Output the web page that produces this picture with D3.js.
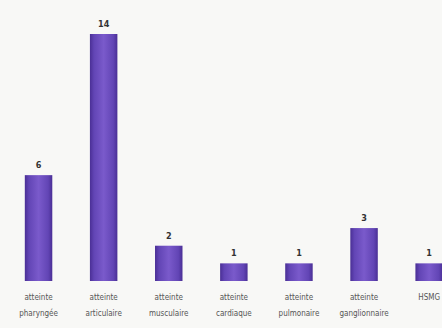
<!DOCTYPE html>
<html><head><meta charset="utf-8">
<script src="https://cdn.jsdelivr.net/npm/d3@7"></script>
<style>
html,body{margin:0;padding:0;background:#f8f8f6;overflow:hidden;}
svg{display:block;}
</style></head>
<body>
<svg id="chart" width="442" height="328"></svg>
<script>
const categories = ["atteinte pharyngée", "atteinte articulaire", "atteinte musculaire", "atteinte cardiaque", "atteinte pulmonaire", "atteinte ganglionnaire", "HSMG"];
const labelLine1 = ["atteinte", "atteinte", "atteinte", "atteinte", "atteinte", "atteinte", "HSMG"];
const labelLine2 = ["pharyngée", "articulaire", "musculaire", "cardiaque", "pulmonaire", "ganglionnaire", ""];
const values = [6, 14, 2, 1, 1, 3, 1];

const svg = d3.select("#chart");
const W = 442, H = 328;

const defs = svg.append("defs");
const grad = defs.append("linearGradient").attr("id", "barGrad").attr("x1", "0").attr("x2", "1").attr("y1", "0").attr("y2", "0");
grad.append("stop").attr("offset", "0%").attr("stop-color", "#4a2f95");
grad.append("stop").attr("offset", "15%").attr("stop-color", "#6245b5");
grad.append("stop").attr("offset", "50%").attr("stop-color", "#7a5acb");
grad.append("stop").attr("offset", "85%").attr("stop-color", "#6245b5");
grad.append("stop").attr("offset", "100%").attr("stop-color", "#4a2f95");

svg.append("rect").attr("width", W).attr("height", H).attr("fill", "#f8f8f6");

const x = d3.scaleBand().domain(categories).range([6, 461.7]).paddingInner(0.578).paddingOuter(0.289);
const y = d3.scaleLinear().domain([0, 14]).range([281, 34]);

svg.append("g").selectAll("rect").data(values).join("rect")
  .attr("x", (d, i) => x(categories[i]))
  .attr("y", d => y(d))
  .attr("width", x.bandwidth())
  .attr("height", d => y(0) - y(d))
  .attr("fill", "url(#barGrad)");

svg.append("g").selectAll("text").data(values).join("text")
  .attr("x", (d, i) => x(categories[i]) + x.bandwidth() / 2)
  .attr("y", d => y(d) - 7)
  .attr("text-anchor", "middle")
  .attr("font-family", "'Liberation Sans Narrow', 'DejaVu Sans Condensed', sans-serif")
  .attr("font-size", 9)
  .attr("font-weight", "bold")
  .attr("fill", "#333")
  .text(d => d);

const lab = svg.append("g").attr("font-family", "'Liberation Sans Narrow', 'DejaVu Sans Condensed', sans-serif")
  .attr("font-size", 8).attr("fill", "#555").attr("text-anchor", "middle");
lab.selectAll("text.l1").data(labelLine1).join("text").attr("class", "l1")
  .attr("x", (d, i) => x(categories[i]) + x.bandwidth() / 2)
  .attr("y", 300).text(d => d);
lab.selectAll("text.l2").data(labelLine2).join("text").attr("class", "l2")
  .attr("x", (d, i) => x(categories[i]) + x.bandwidth() / 2)
  .attr("y", 316).text(d => d);
</script>
</body></html>
